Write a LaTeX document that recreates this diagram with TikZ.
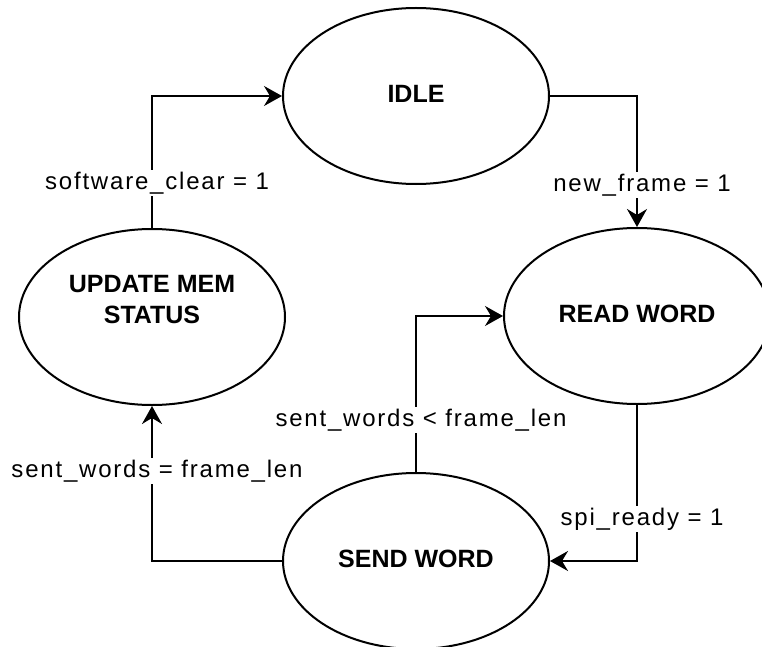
\documentclass[tikz,border=0pt]{standalone}
\usepackage{fontspec}
\setmainfont{Liberation Sans}
\newfontfamily\lblfont[LetterSpace=7.5]{Liberation Sans}
\usetikzlibrary{shapes.geometric,arrows.meta}
\begin{document}
\begin{tikzpicture}[x=1pt,y=-1pt,
  state/.style={ellipse,draw,line width=2pt,minimum width=266pt,minimum height=176pt,inner sep=0pt,
    font=\fontsize{25}{31}\selectfont\bfseries,align=center,text depth=4pt},
  trans/.style={line width=2pt,-{Stealth[length=18pt,width=20pt,inset=6pt]}},
  lbl/.style={fill=white,inner sep=2pt,xshift=5pt,font=\fontsize{24}{28}\selectfont\lblfont}]
\useasboundingbox (0,0) rectangle (762,647);
\node[state] (idle) at (416,96) {IDLE};
\node[state] (read) at (637,316) {READ WORD};
\node[state,text depth=35pt] (upd) at (152,317) {UPDATE MEM\\STATUS};
\node[state] (send) at (416,561) {SEND WORD};
\draw[trans] (upd.north) |- node[lbl,pos=0.17] {software\_clear = 1} (idle.west);
\draw[trans] (idle.east) -| node[lbl,pos=0.84] {new\_frame = 1} (read.north);
\draw[trans] (read.south) |- node[lbl,pos=0.366] {spi\_ready = 1} (send.east);
\draw[trans] (send.north) |- node[lbl,pos=0.166] {sent\_words < frame\_len} (read.west);
\draw[trans] (send.west) -| node[lbl,pos=0.79] {sent\_words = frame\_len} (upd.south);
\end{tikzpicture}
\end{document}
